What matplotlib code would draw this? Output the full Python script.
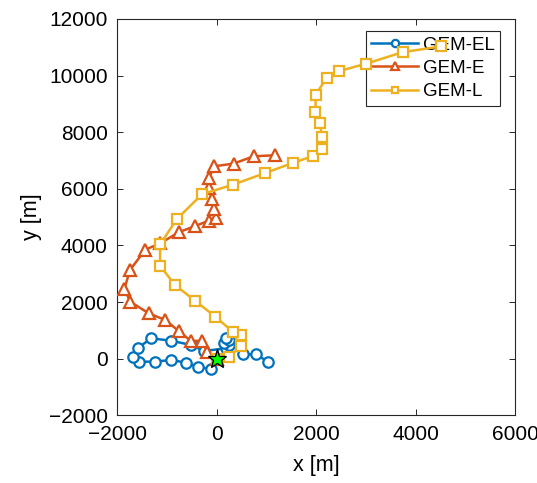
import matplotlib
matplotlib.use("Agg")
import matplotlib.pyplot as plt

plt.rcParams['font.family'] = ['Liberation Sans', 'DejaVu Sans']

# GEM-EL trajectory (x, y in metres)
el_x = [0, -113, -382, -616, -918, -1239, -1555, -1690, -1590, -1320, -918, -515, -247,
        189, 256, 155, 256, 189, 523, 793, 1026]
el_y = [0, -374, -282, -141, -46, -106, -106, 71, 367, 720, 635, 483, 272,
        367, 483, 543, 660, 720, 155, 155, -106]

# GEM-E trajectory
e_x = [0, -193, -294, -515, -765, -1032, -1368, -1736, -1857, -1746, -1435, -1139, -761,
       -439, -161, -6, -46, -93, -147, -161, -46, 342, 744, 1171]
e_y = [0, 247, 635, 624, 977, 1365, 1601, 2011, 2459, 3129, 3852, 4071, 4469,
       4681, 4875, 4963, 5280, 5623, 6021, 6374, 6797, 6892, 7150, 7185]

# GEM-L trajectory
l_x = [0, 256, 491, 491, 322, -26, -435, -837, -1139, -1139, -805, -294, 336, 980,
       1529, 1946, 2127, 2121, 2072, 1986, 1992, 2211, 2453, 3006, 3742, 4515]
l_y = [0, 71, 448, 836, 952, 1481, 2046, 2600, 3280, 4035, 4928, 5810, 6152, 6561,
       6914, 7160, 7421, 7838, 8332, 8720, 9330, 9919, 10155, 10420, 10829, 11030]

start_x = [0]
start_y = [0]

labels = ['GEM-EL', 'GEM-E', 'GEM-L']
colors = ['#0072BD', '#D95319', '#EDB120']
xticks = [-2000, 0, 2000, 4000, 6000]
yticks = [-2000, 0, 2000, 4000, 6000, 8000, 10000, 12000]

fig = plt.figure(figsize=(5.37, 4.83), dpi=100)
ax = fig.add_axes([0.2184, 0.1402, 0.7406, 0.8205])

ax.plot(el_x, el_y, '-o', color=colors[0], lw=1.8, ms=7.5, mew=1.6, mfc='white', label=labels[0], zorder=3)
ax.plot(e_x, e_y, '-^', color=colors[1], lw=1.8, ms=8, mew=1.6, mfc='white', label=labels[1], zorder=3)
ax.plot(l_x, l_y, '-s', color=colors[2], lw=1.8, ms=6.5, mew=1.6, mfc='white', label=labels[2], zorder=3)
ax.plot(start_x, start_y, '*', color='#00FF00', mec='black', mew=1.0, ms=14, zorder=5)

ax.set_xlim(-2000, 6000)
ax.set_ylim(-2000, 12000)
ax.set_xticks(xticks)
ax.set_yticks(yticks)
ax.tick_params(direction='in', length=4, width=0.7, colors='#262626', labelcolor='black',
               labelsize=15, top=True, right=True, pad=7)
for s in ax.spines.values():
    s.set_color('#262626')
    s.set_linewidth(0.8)
ax.set_xlabel('x [m]', fontsize=15.5, labelpad=8)
ax.set_ylabel('y [m]', fontsize=15.5, labelpad=5)

leg = ax.legend(loc='upper right', bbox_to_anchor=(0.963, 0.970), fontsize=13.5,
                frameon=True, fancybox=False, framealpha=1, edgecolor='#262626',
                handlelength=2.5, handletextpad=0.25, labelspacing=0.33,
                borderpad=0.3, borderaxespad=0, markerscale=0.7)
leg.get_frame().set_linewidth(0.8)
leg.set_zorder(2)

fig.savefig('out.png', dpi=100)
